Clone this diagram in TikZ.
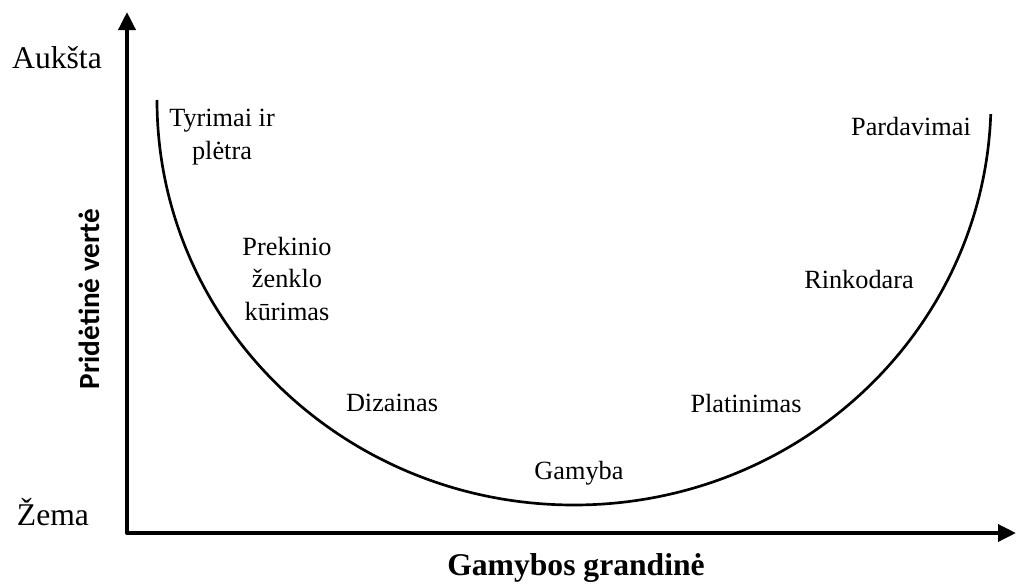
\documentclass[tikz,border=0pt]{standalone}
\usepackage{fontspec}
\setmainfont{Liberation Serif}
\newfontfamily\calibrifont{Carlito}
\usetikzlibrary{arrows.meta}

\tikzset{
  axis/.style={line width=0.1cm, line join=round,
    {Triangle[length=0.45cm,width=0.42cm]}-{Triangle[length=0.45cm,width=0.42cm]}},
  ucurve/.style={line width=1.9pt},
  stage/.style={font=\fontsize{18.7}{23}\selectfont, align=center, inner sep=0pt},
  level/.style={font=\fontsize{22.5}{26}\selectfont, inner sep=0pt}
}

\begin{document}
\begin{tikzpicture}[scale=1.0]

  \useasboundingbox (-3.175,-1.325) rectangle (22.25,13.325);

  % Ašys
  \coordinate (O)    at (0,0);
  \coordinate (ymax) at (0,13.025);
  \coordinate (xmax) at (22.225,0);
  \draw[axis] (ymax) -- (O) -- (xmax);

  % Ašių užrašai
  \node[level] (hi) at (-1.75,11.875) {Aukšta};
  \node[level] (lo) at (-1.85,0.525) {Žema};
  \node[font=\calibrifont\bfseries\fontsize{20.8}{24}\selectfont, rotate=90, inner sep=0pt]
    (ylab) at (-0.95,5.85) {Pridėtinė vertė};
  \node[level, font=\bfseries\fontsize{22.5}{26}\selectfont]
    (xlab) at (11.225,-0.875) {Gamybos grandinė};

  % Šypsenos kreivė
  \draw[ucurve] (0.75,10.825)
    arc[start angle=180, end angle=358, x radius=10.425, y radius=10.125];

  % Grandinės etapai
  \node[stage] (rd)    at (2.375,9.9)   {Tyrimai ir\\plėtra};
  \node[stage] (brand) at (4.0,6.35)    {Prekinio\\ženklo\\kūrimas};
  \node[stage] (des)   at (6.625,3.25)  {Dizainas};
  \node[stage] (prod)  at (11.3,1.5)    {Gamyba};
  \node[stage] (dist)  at (15.475,3.225){Platinimas};
  \node[stage] (mkt)   at (18.3,6.325)  {Rinkodara};
  \node[stage] (sales) at (19.6,10.15)  {Pardavimai};

\end{tikzpicture}
\end{document}
